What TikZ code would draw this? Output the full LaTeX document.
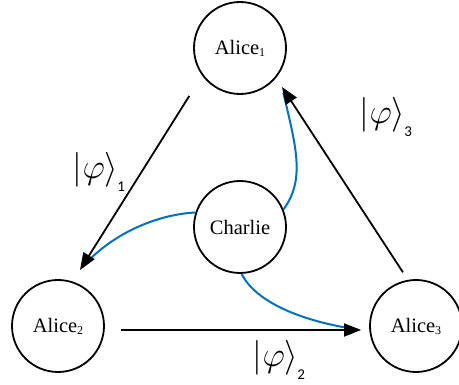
\documentclass[tikz,border=0pt]{standalone}
\usepackage{fontspec}
\setmainfont{Liberation Serif}
\newfontfamily\subsf{Carlito}
\usetikzlibrary{arrows.meta,calc}
\definecolor{cblue}{RGB}{0,112,192}
\newcommand{\ketlab}[1]{\scalebox{1.4}{$\Big|\varphi\Big\rangle$}\kern-1pt\raisebox{-13pt}{\subsf\fontsize{15}{15}\selectfont #1}}
\newcommand{\alsub}[1]{\raisebox{-2pt}{\fontsize{12}{12}\selectfont #1}}
\begin{document}
\begin{tikzpicture}[x=1pt,y=-1pt,
  party/.style={circle,draw,line width=1.8pt,minimum size=92pt,inner sep=0pt,
    font=\fontsize{20.5}{24}\selectfont},
  blk/.style={line width=1.8pt,-{Triangle[length=17pt,width=13pt]}},
  blu/.style={line width=2pt,draw=cblue},
  ket/.style={font=\fontsize{27}{30}\selectfont,inner sep=0pt}]
\useasboundingbox (0,0) rectangle (459,385);
\node[party] (A1) at (240,48) {Alice\alsub{1}};
\node[party] (C)  at (240,227) {Charlie};
\node[party] (A2) at (58,326) {Alice\alsub{2}};
\node[party] (A3) at (416,326) {Alice\alsub{3}};
\coordinate (t12) at ($(A2)+(22,-56)$);
\coordinate (t31) at ($(A1)+(42,39)$);
\coordinate (t23) at ($(A3.west)+(-8,4)$);
% blue curves
\draw[blu, shorten >=3pt] (C.162) .. controls +(-40,2) and +(30,-35) .. (t12);
\draw[blu, shorten >=6pt] (C.22) .. controls +(22,-30) and +(14,60) .. (t31);
\draw[blu, shorten >=4pt] (C.272) .. controls +(15,30) and +(-55,-8) .. (t23);
% black arrows
\draw[blk, shorten <=24pt] (A1.216) -- (t12);
\draw[blk] ($(A2.east)+(16,4)$) -- (t23);
\draw[blk, shorten <=9pt] (A3.100) -- (t31);
% labels
\node[ket] (k1) at (99,172) {\ketlab{1}};
\node[ket] (k2) at (279,360) {\ketlab{2}};
\node[ket] (k3) at (386,117) {\ketlab{3}};
\end{tikzpicture}
\end{document}
